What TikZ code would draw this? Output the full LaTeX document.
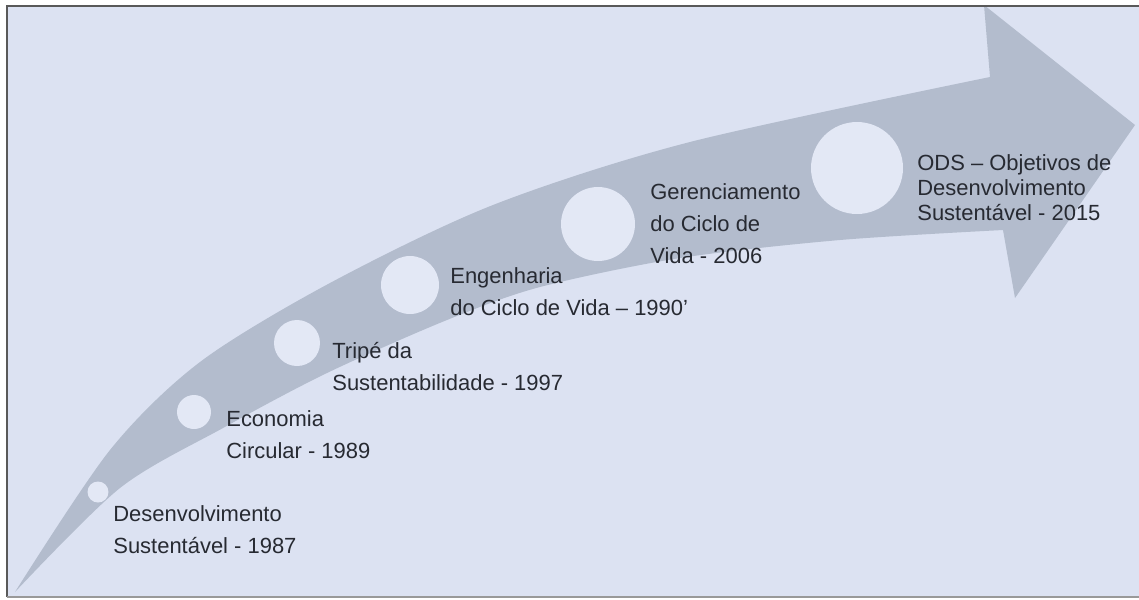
\documentclass[tikz,border=0pt]{standalone}
\usepackage{fontspec}
\setmainfont{Liberation Sans}

\definecolor{bgblue}{HTML}{DCE2F2}
\definecolor{arrowgray}{HTML}{B3BCCD}
\definecolor{dotfill}{HTML}{E3E8F5}
\definecolor{labeltext}{HTML}{272A32}

\tikzset{
milestone/.style={circle, fill=dotfill, inner sep=0pt},
mlabel/.style={anchor=base west, align=left, inner sep=0pt, text=labeltext,
  font=\fontsize{12.5}{18}\selectfont},
}

\begin{document}
\begin{tikzpicture}[x=0.02cm, y=-0.02cm]
\useasboundingbox (0,0) rectangle (1139,599);
\fill[white] (0,0) rectangle (1139,599);
\fill[bgblue] (7,6) rectangle (1139,597);
% curved arrow
\fill[arrowgray] plot[smooth] coordinates {(15,592) (110,450) (200,362) (330,283) (493,205) (690,142) (990,77)}
  -- (984,5) -- (1135,125) -- (1015,298) -- (1003,230)
  -- plot[smooth] coordinates {(1003,230) (840,240) (680,258) (540,287) (447,320) (327,373) (223,428) (120,488) (15,592)} -- cycle;
% milestones
\node[milestone, minimum size=0.42cm] (c1) at (98,492) {};
\node[milestone, minimum size=0.68cm] (c2) at (194,412) {};
\node[milestone, minimum size=0.92cm] (c3) at (297,343) {};
\node[milestone, minimum size=1.16cm] (c4) at (410,285) {};
\node[milestone, minimum size=1.48cm] (c5) at (598,224) {};
\node[milestone, minimum size=1.84cm] (c6) at (857,168) {};
% labels (anchored at the baseline of the last line)
\node[mlabel] (l1) at (113,553) {Desenvolvimento\\Sustentável - 1987};
\node[mlabel] (l2) at (226,458) {Economia\\Circular - 1989};
\node[mlabel] (l3) at (332,390) {Tripé da\\Sustentabilidade - 1997};
\node[mlabel] (l4) at (450,315) {Engenharia\\do Ciclo de Vida – 1990'};
\node[mlabel] (l5) at (650,263) {Gerenciamento\\do Ciclo de\\Vida - 2006};
\node[mlabel, font=\fontsize{12.5}{14.2}\selectfont] (l6) at (917,220) {ODS – Objetivos de\\Desenvolvimento\\Sustentável - 2015};
% frame
\draw[black!65, line width=1.2pt] (7,597) -- (7,6) -- (1139,6);
\draw[black!40, line width=0.8pt] (7,597) -- (1139,597);
\end{tikzpicture}
\end{document}
